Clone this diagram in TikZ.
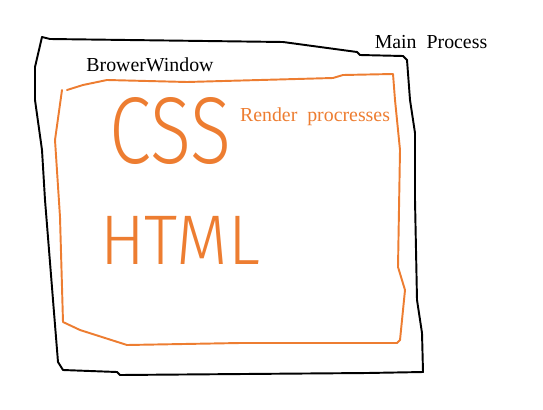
\documentclass[tikz,border=0pt]{standalone}
\usepackage{fontspec}
\setmainfont{Liberation Serif}
\newfontfamily\handfont[UprightFont=* Light]{Fira Sans}
\usetikzlibrary{positioning}
\definecolor{sketchOrange}{RGB}{237, 125, 49}
\definecolor{sketchBlack}{RGB}{0, 0, 0}

\begin{document}
\begin{tikzpicture}[x=0.02cm, y=-0.02cm,
        pen/.style={line width=1.1pt, line join=round, line cap=round},
        lbl/.style={inner sep=0pt, font=\fontsize{11.3}{13}\selectfont},
        hand/.style={inner sep=0pt, text=sketchOrange, font=\handfont}
      ]
        \useasboundingbox (0,0) rectangle (543,409);
        % main process outline
        \draw[pen, sketchBlack] (42,37) -- (50,39) -- (283,42) -- (357,52) -- (360,55) -- (403,56)
          -- (407,60) -- (410,100) -- (415,133) -- (415,200) -- (417,300) -- (422,333) -- (423,372)
          -- (367,373) -- (120,375) -- (117,372) -- (63,370) -- (58,362) -- (53,300) -- (45,200)
          -- (42,150) -- (35,100) -- (35,67) -- cycle;
        % render process outline
        \draw[pen, sketchOrange] (67,90) -- (83,85) -- (107,80) -- (187,82) -- (333,78) -- (343,75)
          -- (393,74) -- (395,100) -- (400,150) -- (398,267) -- (405,290) -- (400,340) -- (397,343)
          -- (240,343) -- (127,345) -- (80,330) -- (63,322) -- (60,217) -- (55,140) -- (62,90);
        \node[lbl] (main) at (431,42) {Main\ \ Process};
        \node[lbl] (win) at (150,65) {BrowerWindow};
        \node[lbl, text=sketchOrange] (render) at (315,117) {Render\ \ procresses};
        \node[hand, font=\handfont\fontsize{54}{54}\selectfont, xscale=0.8] (css) at (170,131) {CSS};
        \node[hand, font=\handfont\fontsize{40}{40}\selectfont, xscale=0.95] (html) at (180,240) {HTML};
      \end{tikzpicture}
\end{document}
